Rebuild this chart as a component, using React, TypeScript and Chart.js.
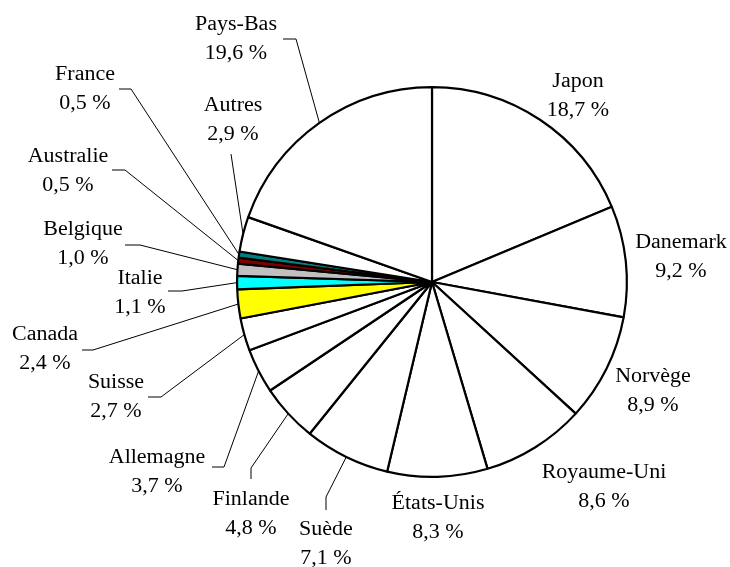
import React, { useEffect, useRef } from "react";
import { Chart, registerables } from "chart.js";

Chart.register(...registerables);

const countries = [
  "Japon", "Danemark", "Norvège", "Royaume-Uni", "États-Unis", "Suède",
  "Finlande", "Allemagne", "Suisse", "Canada", "Italie", "Belgique",
  "Australie", "France", "Autres", "Pays-Bas",
];
const shares = [18.7, 9.2, 8.9, 8.6, 8.3, 7.1, 4.8, 3.7, 2.7, 2.4, 1.1, 1.0, 0.5, 0.5, 2.9, 19.6];
const sliceColors = [
  "#FFFFFF", "#FFFFFF", "#FFFFFF", "#FFFFFF", "#FFFFFF", "#FFFFFF",
  "#FFFFFF", "#FFFFFF", "#FFFFFF", "#FFFF00", "#00FFFF", "#C0C0C0",
  "#800000", "#008080", "#FFFFFF", "#FFFFFF",
];

// label placement: text center x, first line center y, leader elbow points
type Layout = { x: number; y: number; elbow: [number, number][] };
const labelLayout: Layout[] = [
  { x: 578, y: 82, elbow: [] },
  { x: 681, y: 243, elbow: [] },
  { x: 653, y: 377, elbow: [] },
  { x: 604, y: 473, elbow: [] },
  { x: 438, y: 504, elbow: [] },
  { x: 326, y: 530, elbow: [[326, 510], [326, 497]] },
  { x: 251, y: 500, elbow: [[251, 479], [251, 468]] },
  { x: 157, y: 458, elbow: [[212, 467], [224, 467]] },
  { x: 116, y: 383, elbow: [[148, 397], [161, 397]] },
  { x: 45, y: 335, elbow: [[82, 350], [93, 350]] },
  { x: 140, y: 279, elbow: [[168, 291], [182, 291]] },
  { x: 83, y: 230, elbow: [[125, 245], [140, 245]] },
  { x: 68, y: 157, elbow: [[112, 170], [125, 170]] },
  { x: 85, y: 75, elbow: [[119, 89], [131, 89]] },
  { x: 233, y: 106, elbow: [[231, 154]] },
  { x: 236, y: 25, elbow: [[283, 39], [296, 39]] },
];

const FONT = '20px "Liberation Serif", "Times New Roman", Tinos, "DejaVu Serif", serif';
const fmt = (v: number) => v.toFixed(1).replace(".", ",") + " %";

const labelPlugin = {
  id: "outsideLabels",
  afterDraw(chart: any) {
    const ctx = chart.ctx;
    const meta = chart.getDatasetMeta(0);
    ctx.save();
    ctx.strokeStyle = "#000";
    ctx.lineWidth = 1;
    meta.data.forEach((arc: any, i: number) => {
      const L = labelLayout[i];
      if (L.elbow.length) {
        const mid = (arc.startAngle + arc.endAngle) / 2;
        const ex = arc.x + Math.cos(mid) * arc.outerRadius;
        const ey = arc.y + Math.sin(mid) * arc.outerRadius;
        ctx.beginPath();
        ctx.moveTo(L.elbow[0][0], L.elbow[0][1]);
        for (let k = 1; k < L.elbow.length; k++) ctx.lineTo(L.elbow[k][0], L.elbow[k][1]);
        ctx.lineTo(ex, ey);
        ctx.stroke();
      }
    });
    ctx.fillStyle = "#000";
    ctx.font = FONT;
    ctx.textAlign = "center";
    ctx.textBaseline = "middle";
    countries.forEach((name, i) => {
      const L = labelLayout[i];
      const lines = [name, fmt(shares[i])];
      lines.forEach((t, k) => {
        ctx.save();
        ctx.translate(L.x, L.y + k * 28.5);
        ctx.scale(1.1, 1);
        ctx.fillText(t, 0, 0);
        ctx.restore();
      });
    });
    ctx.restore();
  },
};

export default function App() {
  const ref = useRef<HTMLCanvasElement>(null);
  useEffect(() => {
    const chart = new Chart(ref.current!, {
      type: "pie",
      data: {
        labels: countries,
        datasets: [
          {
            data: shares,
            backgroundColor: sliceColors,
            borderColor: "#000000",
            borderWidth: 2.2,
          },
        ],
      },
      options: {
        responsive: false,
        animation: false,
        layout: { padding: { left: 236, right: 102, top: 86, bottom: 89 } },
        plugins: { legend: { display: false }, tooltip: { enabled: false } },
      },
      plugins: [labelPlugin],
    });
    return () => chart.destroy();
  }, []);
  return (
    <div style={{ position: "absolute", left: 0, top: 0, width: 730, height: 567, background: "#fff" }}>
      <canvas ref={ref} width={730} height={567} />
    </div>
  );
}
